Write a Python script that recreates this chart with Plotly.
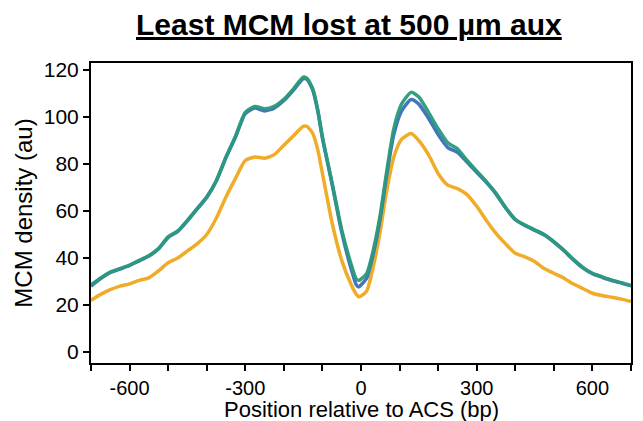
import plotly.graph_objects as go

positions = [-700, -675, -650, -625, -600, -575, -550, -525, -500, -475, -450, -425, -400,
             -375, -350, -325, -300, -275, -250, -225, -200, -175, -150, -140, -125, -112,
             -100, -75, -50, -25, -12, -5, 0, 15, 30, 50, 65, 85, 105, 130, 150, 175, 200,
             225, 250, 275, 300, 325, 350, 375, 400, 425, 450, 475, 500, 525, 550, 575,
             600, 625, 650, 675, 700]

green = [28.5, 31.5, 34, 35.5, 37, 39, 41, 44, 49, 51.5, 56, 61, 66,
         73, 83, 92, 102, 104.5, 103.5, 104.5, 107.5, 112, 117, 116.5, 112, 103,
         91.5, 72, 52, 37, 31, 30.5, 31, 33.5, 42, 58.5, 75, 95, 105.5, 110.5, 108.5, 102, 95,
         89, 86.5, 81.5, 77, 72.5, 67.5, 61.5, 56.5, 54, 52, 50, 47, 43.5, 39.5, 36,
         33.5, 32, 30.6, 29.5, 28.3]

blue = [28.0, 31.2, 33.8, 35.3, 36.8, 38.8, 40.8, 43.8, 48.8, 51.3, 55.8, 60.8, 65.8,
        72.8, 82.8, 91.6, 101.5, 103.8, 102.6, 103.8, 107, 111.5, 116.3, 116, 111.5, 102.5,
        91, 71.5, 51, 35, 28.5, 27.7, 28.5, 31.5, 40.5, 57, 73.5, 92.5, 102.5, 107.5, 105.5, 99.5, 92.5,
        87, 85, 80.8, 76.5, 72.2, 67.3, 61.3, 56.3, 53.8, 51.8, 49.8, 46.8, 43.3, 39.3, 35.8,
        33.3, 31.8, 30.4, 29.3, 28.1]

orange = [22, 24.5, 26.5, 28, 29, 30.5, 31.5, 34.5, 38, 40, 43, 46, 50,
          57, 66, 74, 81.5, 83, 82.5, 84, 88, 92, 96, 96, 93, 86,
          76, 55, 39, 28.5, 24.5, 23.5, 23.8, 26, 35, 51.5, 67, 83, 90.5, 93, 90, 84, 76,
          71, 69.5, 67, 62, 56, 50.5, 46, 42, 40.5, 38.5, 35.5, 33.5, 31.5, 29, 27,
          25, 24, 23.3, 22.5, 21.5]

x_tickvals = list(range(-700, 701, 100))
x_ticktext = [str(v) if v % 300 == 0 else "" for v in x_tickvals]
y_tickvals = [0, 20, 40, 60, 80, 100, 120]

fig = go.Figure()
line_common = dict(width=3.5, shape="spline", smoothing=0.6)
fig.add_trace(go.Scatter(x=positions, y=orange, mode="lines",
                         line=dict(color="#f0a81e", **line_common), opacity=0.95))
fig.add_trace(go.Scatter(x=positions, y=blue, mode="lines",
                         line=dict(color="#3a6fb8", **line_common), opacity=0.95))
fig.add_trace(go.Scatter(x=positions, y=green, mode="lines",
                         line=dict(color="#2a9a7c", **line_common), opacity=0.95))

font = "Liberation Sans, Arial, sans-serif"
fig.update_layout(
    width=643, height=421,
    margin=dict(l=91, r=12, t=63, b=58),
    paper_bgcolor="white", plot_bgcolor="white",
    showlegend=False,
    font=dict(family=font, color="black", size=20),
    annotations=[
        dict(text="<b><u>Least MCM lost at 500 µm aux</u></b>",
             xref="paper", yref="paper", x=(349 - 91) / 540, y=1.0,
             yshift=39, showarrow=False, xanchor="center", yanchor="middle",
             font=dict(size=30, family=font, color="black")),
        dict(text="Position relative to ACS (bp)",
             xref="paper", yref="paper", x=0.5, y=0.0,
             yshift=-46, showarrow=False, xanchor="center", yanchor="middle",
             font=dict(size=22, family=font, color="black")),
    ],
)
fig.update_xaxes(range=[-700, 700], tickvals=x_tickvals, ticktext=x_ticktext,
                 ticks="outside", ticklen=6, tickwidth=2, tickcolor="black",
                 showline=True, linecolor="black", linewidth=2, mirror=True,
                 showgrid=False, zeroline=False, automargin=False,
                 tickfont=dict(size=20))
fig.update_yaxes(range=[-4.7, 123], tickvals=y_tickvals,
                 ticks="outside", ticklen=6, tickwidth=2, tickcolor="black",
                 showline=True, linecolor="black", linewidth=2, mirror=True,
                 showgrid=False, zeroline=False, automargin=False,
                 title=dict(text="MCM density (au)", font=dict(size=24), standoff=4),
                 tickfont=dict(size=21))

fig.write_html("out.html")
